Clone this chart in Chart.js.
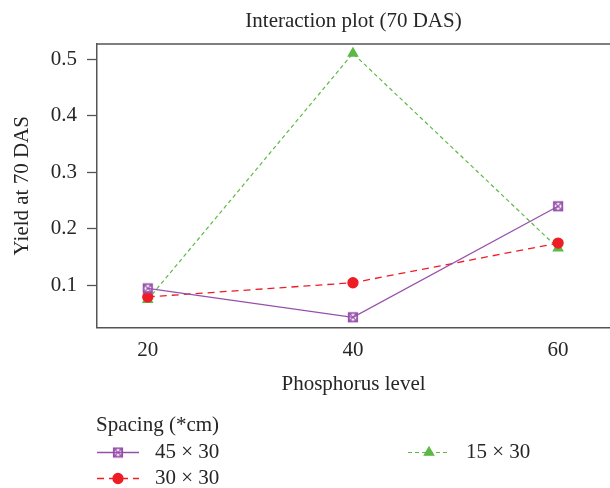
<!DOCTYPE html>
<html>
<head>
<meta charset="utf-8">
<script src="https://cdn.jsdelivr.net/npm/chart.js@4"></script>
<style>
  html, body { margin: 0; padding: 0; background: #fff; }
</style>
</head>
<body>
<canvas id="grafico" width="610" height="488"></canvas>
<script>
const niveisFosforo = [20, 40, 60];
const espacamentos = ['45 × 30', '30 × 30', '15 × 30'];
const rend45x30 = [0.095, 0.044, 0.240];
const rend30x30 = [0.080, 0.105, 0.175];
const rend15x30 = [0.075, 0.510, 0.166];
const ticksY = [0.1, 0.2, 0.3, 0.4, 0.5];

const corRoxo = '#9650AA';
const corVermelho = '#EE1D25';
const corVerde = '#5DB946';
const corEixo = '#555';
const corTexto = '#262626';

Chart.defaults.font.family = "'Liberation Serif', 'DejaVu Serif', serif";
Chart.defaults.font.size = 21;
Chart.defaults.color = corTexto;

// marcador quadrado com x e círculo (estilo R)
function marcadorCaixa(cor) {
  const c = document.createElement('canvas');
  c.width = 12; c.height = 12;
  const g = c.getContext('2d');
  g.strokeStyle = cor;
  g.lineWidth = 1.2;
  g.strokeRect(1.5, 1.5, 9, 9);
  g.beginPath(); g.arc(6, 6, 4, 0, Math.PI * 2); g.stroke();
  g.beginPath();
  g.moveTo(1.5, 1.5); g.lineTo(10.5, 10.5);
  g.moveTo(10.5, 1.5); g.lineTo(1.5, 10.5);
  g.stroke();
  return c;
}

function pontos(valores) {
  return niveisFosforo.map((x, i) => ({ x: x, y: valores[i] }));
}

// linha de cima da moldura
const moldura = {
  id: 'moldura',
  afterDraw(chart) {
    const { ctx, chartArea: a } = chart;
    ctx.save();
    ctx.strokeStyle = corEixo;
    ctx.lineWidth = 1.5;
    ctx.beginPath();
    ctx.moveTo(a.left - 0.75, a.top);
    ctx.lineTo(a.right, a.top);
    ctx.stroke();
    ctx.restore();
  }
};

// legenda em duas colunas, como no R
const legendaR = {
  id: 'legendaR',
  afterDraw(chart, args, opts) {
    const ctx = chart.ctx;
    ctx.save();
    ctx.font = "21px 'Liberation Serif', serif";
    ctx.fillStyle = corTexto;
    ctx.textBaseline = 'middle';
    ctx.fillText(opts.titulo, opts.x, opts.y);
    opts.itens.forEach((pos, i) => {
      const ds = chart.data.datasets[i];
      const x = pos[0], y = pos[1];
      ctx.strokeStyle = ds.borderColor;
      ctx.lineWidth = ds.borderWidth;
      ctx.setLineDash(ds.borderDash || []);
      ctx.beginPath();
      ctx.moveTo(x, y);
      ctx.lineTo(x + 42, y);
      ctx.stroke();
      ctx.setLineDash([]);
      ctx.fillStyle = ds.pointBackgroundColor;
      ctx.strokeStyle = ds.pointBorderColor;
      Chart.helpers.drawPoint(ctx, {
        pointStyle: ds.pointStyle,
        radius: ds.pointRadius,
        rotation: 0,
        borderWidth: 1
      }, x + 21, y);
      ctx.fillStyle = corTexto;
      ctx.fillText(ds.label, x + 58, y);
    });
    ctx.restore();
  }
};

const ctx = document.getElementById('grafico').getContext('2d');

new Chart(ctx, {
  type: 'line',
  data: {
    datasets: [
      {
        label: espacamentos[0],
        data: pontos(rend45x30),
        borderColor: corRoxo,
        borderWidth: 1.3,
        pointStyle: marcadorCaixa(corRoxo),
        pointRadius: 5,
        pointBackgroundColor: corRoxo,
        pointBorderColor: corRoxo
      },
      {
        label: espacamentos[1],
        data: pontos(rend30x30),
        borderColor: corVermelho,
        borderWidth: 1.3,
        borderDash: [7, 5],
        pointStyle: 'circle',
        pointRadius: 5,
        pointBackgroundColor: corVermelho,
        pointBorderColor: corVermelho
      },
      {
        label: espacamentos[2],
        data: pontos(rend15x30),
        borderColor: corVerde,
        borderWidth: 1.2,
        borderDash: [4, 3],
        pointStyle: 'triangle',
        pointRadius: 5.5,
        pointBackgroundColor: corVerde,
        pointBorderColor: corVerde
      }
    ]
  },
  options: {
    responsive: false,
    animation: false,
    devicePixelRatio: 1,
    layout: { padding: 0, autoPadding: false },
    plugins: {
      legend: { display: false },
      tooltip: { enabled: false },
      title: {
        display: true,
        text: 'Interaction plot (70 DAS)',
        fullSize: false,
        color: corTexto,
        font: { size: 21, weight: 'normal' },
        padding: { top: 8.4, bottom: 10.4 }
      },
      legendaR: {
        titulo: 'Spacing (*cm)',
        x: 96,
        y: 425,
        itens: [[97, 452.5], [97, 478.5], [408, 452.5]]
      }
    },
    scales: {
      x: {
        type: 'linear',
        min: 15.05,
        max: 65.06,
        afterBuildTicks: s => { s.ticks = niveisFosforo.map(v => ({ value: v })); },
        afterFit: s => { s.height = 160.5; },
        grid: { display: false, drawTicks: false },
        border: { display: true, color: corEixo, width: 1.5 },
        ticks: { padding: 9.9, color: corTexto, callback: v => String(v) },
        title: {
          display: true,
          text: 'Phosphorus level',
          color: corTexto,
          padding: { top: 0, bottom: 91.4 }
        }
      },
      y: {
        type: 'linear',
        min: 0.026,
        max: 0.5265,
        afterBuildTicks: s => { s.ticks = ticksY.map(v => ({ value: v })); },
        afterFit: s => { s.width = 97; },
        grid: {
          drawOnChartArea: false,
          drawTicks: true,
          tickLength: 10,
          tickColor: corEixo,
          tickWidth: 1.3
        },
        border: { display: true, color: corEixo, width: 1.5 },
        ticks: { padding: 10, color: corTexto, callback: v => v.toFixed(1) },
        title: {
          display: true,
          text: 'Yield at 70 DAS',
          color: corTexto,
          padding: { top: 9.4, bottom: 0 }
        }
      }
    }
  },
  plugins: [moldura, legendaR]
});
</script>
</body>
</html>
